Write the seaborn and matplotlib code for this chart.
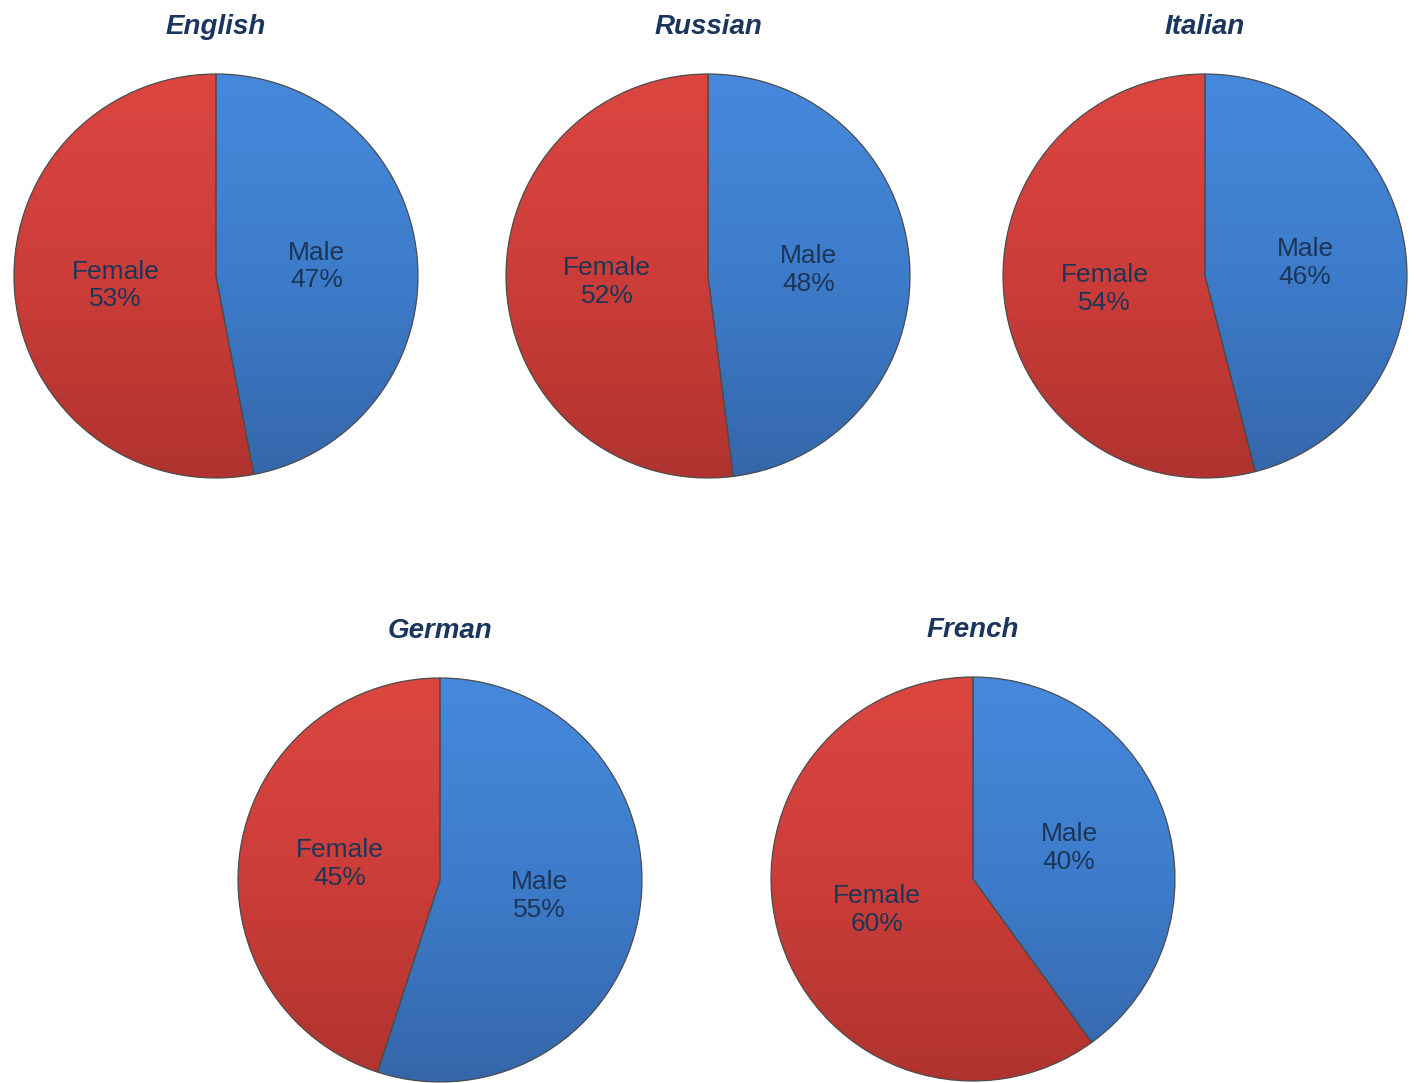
import numpy as np
import matplotlib
matplotlib.use("Agg")
import matplotlib.pyplot as plt
from matplotlib.colors import LinearSegmentedColormap
from matplotlib.patches import PathPatch
import seaborn as sns

sns.set_theme(style="white")
plt.rcParams['font.family'] = ['Liberation Sans', 'DejaVu Sans']

# data
languages = ["English", "Russian", "Italian", "German", "French"]
categories = ["Male", "Female"]
male_pct = [47, 48, 46, 55, 40]
female_pct = [53, 52, 54, 45, 60]

# layout (pixel centres of each pie in a 1416x1083 figure)
W, H = 1416, 1083
centres = [(216, 276), (708, 276), (1205, 276), (440, 880), (973, 879)]
R = 203

male_cmap = LinearSegmentedColormap.from_list("m", ["#4689dc", "#3d7cca", "#3566aa"])
female_cmap = LinearSegmentedColormap.from_list("f", ["#dc4641", "#cc3d39", "#b0332f"])
text_color = "#1d3557"
title_color = "#1b365e"

fig = plt.figure(figsize=(W / 100, H / 100), dpi=100)

# top -> bottom gradient (row 0 drawn at top)
grad = np.linspace(0, 1, 256).reshape(-1, 1)

for lang, m, f, (cx, cy) in zip(languages, male_pct, female_pct, centres):
    ax = fig.add_axes([(cx - R) / W, (H - cy - R) / H, 2 * R / W, 2 * R / H])
    wedges, texts = ax.pie([m, f], startangle=90, counterclock=False,
                           colors=["#3d7dcb", "#cd3e3a"],
                           labels=[f"{c}\n{v}%" for c, v in zip(categories, [m, f])],
                           labeldistance=0.5,
                           wedgeprops=dict(edgecolor="none", linewidth=0),
                           textprops=dict(fontsize=19, color=text_color,
                                          linespacing=1.2))
    for w, cmap in zip(wedges, [male_cmap, female_cmap]):
        im = ax.imshow(grad, extent=(-1, 1, -1, 1), cmap=cmap, vmin=0, vmax=1,
                       aspect="auto", zorder=2)
        im.set_clip_path(w)
        # outline drawn above the gradient
        ax.add_patch(PathPatch(w.get_path(), transform=w.get_transform(),
                               fill=False, edgecolor="#4d4d4d", linewidth=0.9,
                               zorder=3))
    for t in texts:
        t.set_horizontalalignment("center")
        t.set_verticalalignment("center")
        t.set_zorder(5)
    ax.set_xlim(-1.005, 1.005)
    ax.set_ylim(-1.005, 1.005)
    ax.set_aspect("equal")
    ax.axis("off")
    ax.set_title(lang, fontsize=20, fontweight="bold", fontstyle="italic",
                 color=title_color, pad=28)

fig.savefig("out.png", dpi=100)
